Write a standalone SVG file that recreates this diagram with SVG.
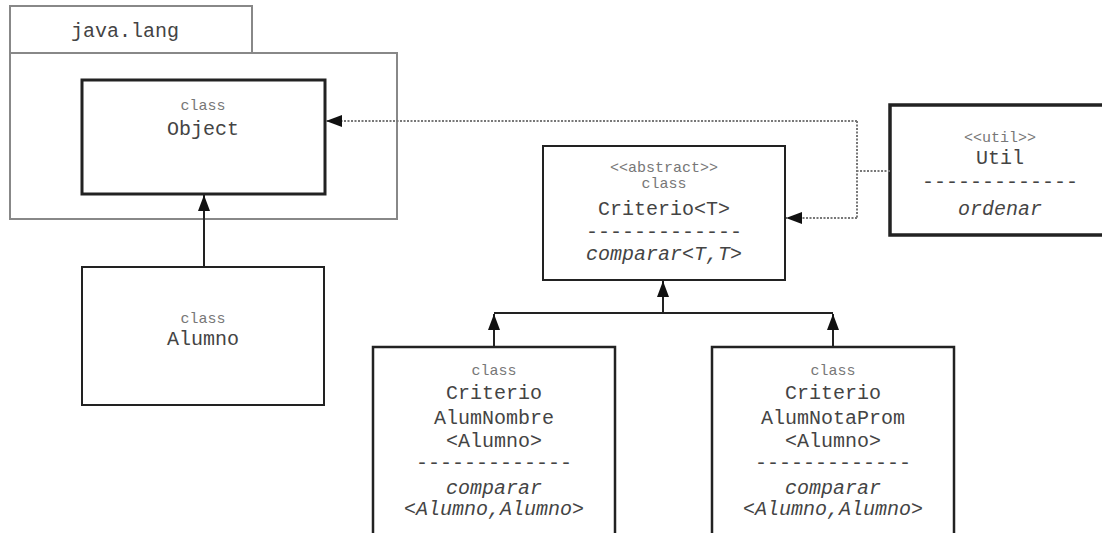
<svg xmlns="http://www.w3.org/2000/svg" width="1102" height="533" viewBox="0 0 1102 533">
<defs>
<style>
.pkg{fill:#fff;stroke:#888;stroke-width:2}
.box{fill:#fff;stroke:#222}
.t{font-family:"Liberation Mono","Courier New",monospace;font-size:20px;fill:#444;text-anchor:middle}
.s{font-family:"Liberation Mono","Courier New",monospace;font-size:15px;fill:#777;text-anchor:middle}
.i{font-style:italic}
.solid{fill:none;stroke:#222;stroke-width:2}
.dot{fill:none;stroke:#777;stroke-width:2;stroke-dasharray:2 1.5}
</style>
<marker id="tri" viewBox="0 0 16 12" refX="16" refY="6" markerWidth="16" markerHeight="12" markerUnits="userSpaceOnUse" orient="auto">
<path d="M0,0 L16,6 L0,12 Z" fill="#111"/>
</marker>
</defs>
<rect width="1102" height="533" fill="#fff"/>
<g id="pkg-java-lang">
<rect class="pkg" x="10" y="6" width="242" height="47"/>
<rect class="pkg" x="10" y="53" width="387" height="166"/>
<text class="t" x="125" y="37">java.lang</text>
</g>
<g id="node-object">
<rect class="box" x="82" y="80" width="243" height="114" stroke-width="3"/>
<text class="s" x="203" y="110">class</text>
<text class="t" x="203" y="135">Object</text>
</g>
<g id="node-alumno">
<rect class="box" x="82" y="267" width="242" height="138" stroke-width="2"/>
<text class="s" x="203" y="323">class</text>
<text class="t" x="203" y="345">Alumno</text>
</g>
<g id="node-criterio">
<rect class="box" x="543" y="146" width="242" height="134" stroke-width="2"/>
<text class="s" x="664" y="172">&lt;&lt;abstract&gt;&gt;</text>
<text class="s" x="664" y="188">class</text>
<text class="t" x="664" y="215">Criterio&lt;T&gt;</text>
<text class="t" x="664" y="238">-------------</text>
<text class="t i" x="664" y="260">comparar&lt;T,T&gt;</text>
</g>
<g id="node-util">
<rect class="box" x="890" y="105" width="230" height="130" stroke-width="3.5"/>
<text class="s" x="1000" y="142">&lt;&lt;util&gt;&gt;</text>
<text class="t" x="1000" y="164">Util</text>
<text class="t" x="1000" y="188">-------------</text>
<text class="t i" x="1000" y="215">ordenar</text>
</g>
<g id="node-criterio-alum-nombre">
<rect class="box" x="373" y="347" width="242" height="200" stroke-width="2.5"/>
<text class="s" x="494" y="375">class</text>
<text class="t" x="494" y="399">Criterio</text>
<text class="t" x="494" y="424">AlumNombre</text>
<text class="t" x="494" y="447">&lt;Alumno&gt;</text>
<text class="t" x="494" y="469">-------------</text>
<text class="t i" x="494" y="494">comparar</text>
<text class="t i" x="494" y="515">&lt;Alumno,Alumno&gt;</text>
</g>
<g id="node-criterio-alum-nota-prom">
<rect class="box" x="712" y="347" width="242" height="200" stroke-width="2.5"/>
<text class="s" x="833" y="375">class</text>
<text class="t" x="833" y="399">Criterio</text>
<text class="t" x="833" y="424">AlumNotaProm</text>
<text class="t" x="833" y="447">&lt;Alumno&gt;</text>
<text class="t" x="833" y="469">-------------</text>
<text class="t i" x="833" y="494">comparar</text>
<text class="t i" x="833" y="515">&lt;Alumno,Alumno&gt;</text>
</g>
<g id="connectors">
<path class="solid" d="M204,267 L204,195" marker-end="url(#tri)"/>
<path class="solid" d="M494,313 L833,313"/>
<path class="solid" d="M663,313 L663,281" marker-end="url(#tri)"/>
<path class="solid" d="M494,347 L494,314" marker-end="url(#tri)"/>
<path class="solid" d="M833,347 L833,314" marker-end="url(#tri)"/>
<path class="dot" d="M890,171 L857,171"/>
<path class="dot" d="M857,121 L857,218"/>
<path class="dot" d="M857,121 L326,121" marker-end="url(#tri)"/>
<path class="dot" d="M857,218 L786,218" marker-end="url(#tri)"/>
</g>
</svg>
